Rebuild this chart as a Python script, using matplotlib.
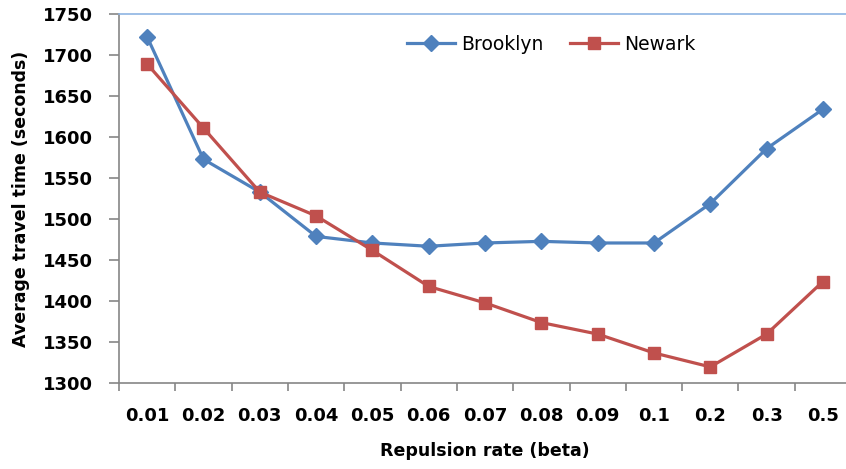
import matplotlib.pyplot as plt

# Data
categories = ["0.01", "0.02", "0.03", "0.04", "0.05", "0.06", "0.07",
              "0.08", "0.09", "0.1", "0.2", "0.3", "0.5"]
brooklyn = [1722, 1573, 1533, 1479, 1471, 1467, 1471, 1473, 1471, 1471, 1519, 1586, 1634]
newark = [1689, 1611, 1533, 1504, 1462, 1418, 1398, 1374, 1360, 1337, 1320, 1360, 1424]
y_ticks = [1300, 1350, 1400, 1450, 1500, 1550, 1600, 1650, 1700, 1750]

BLUE = "#4F81BD"
RED = "#C0504D"
AXIS_GRAY = "#868686"

fig = plt.figure(figsize=(8.46, 4.69), dpi=100)
ax = fig.add_axes([0.1407, 0.1827, 0.8653, 0.7874])

x = list(range(len(categories)))
ax.plot(x, brooklyn, color=BLUE, lw=2.3, marker="D", markersize=8.5,
        label="Brooklyn", zorder=3)
ax.plot(x, newark, color=RED, lw=2.3, marker="s", markersize=9,
        label="Newark", zorder=3)

ax.set_ylim(1300, 1750)
ax.set_yticks(y_ticks)
ax.set_xlim(-0.5, 12.5)

# categories centred between tick marks, Excel style
ax.set_xticks([i - 0.5 for i in range(len(categories) + 1)])
ax.set_xticklabels([])
ax.set_xticks(x, minor=True)
ax.set_xticklabels(categories, minor=True, fontsize=13, fontweight="bold")
ax.tick_params(axis="x", which="minor", length=0, pad=17)
ax.tick_params(axis="x", which="major", length=6, width=1.2, color=AXIS_GRAY, direction="out")
ax.tick_params(axis="y", length=7, width=1.2, color=AXIS_GRAY, pad=12,
               labelsize=13)
for lab in ax.get_yticklabels():
    lab.set_fontweight("bold")

for side in ["left", "bottom"]:
    ax.spines[side].set_color(AXIS_GRAY)
    ax.spines[side].set_linewidth(1.2)
ax.spines["right"].set_visible(False)
ax.spines["top"].set_color("#8EB4E3")
ax.spines["top"].set_linewidth(1.2)

ax.set_ylabel("Average travel time (seconds)", fontsize=12.5, fontweight="bold", labelpad=9)
ax.set_xlabel("Repulsion rate (beta)", fontsize=12.5, fontweight="bold", labelpad=12)

ax.legend(loc="upper center", bbox_to_anchor=(0.59, 0.99), ncol=2, frameon=False,
          fontsize=13.5, handlelength=2.6, columnspacing=1.4, handletextpad=0.3)

fig.savefig("out.png", dpi=100)
